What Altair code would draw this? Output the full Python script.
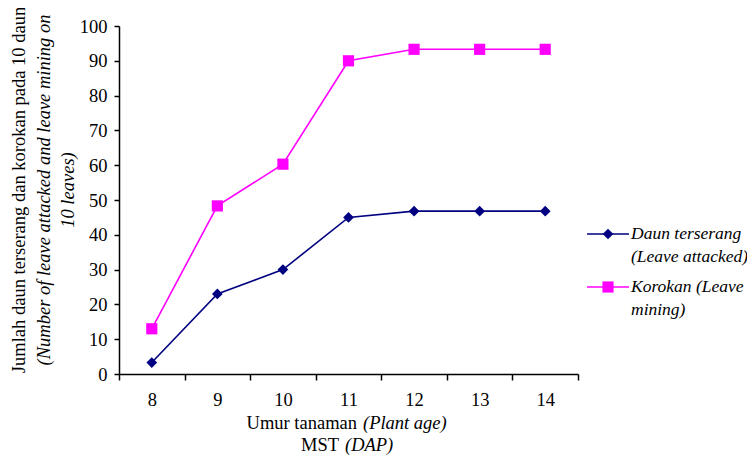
import altair as alt
import pandas as pd

umur = [8, 9, 10, 11, 12, 13, 14]
daun_terserang = [3.3, 23, 30, 45, 46.8, 46.8, 46.8]
korokan = [13, 48.3, 60.3, 90, 93.3, 93.3, 93.3]

series_names = ["Daun terserang", "Korokan"]
series_colors = ["#000080", "#FF00FF"]
series_shapes = ["diamond", "square"]
legend_label_lines = [["Daun terserang", "(Leave attacked)"], ["Korokan (Leave", "mining)"]]

y_title_lines = ["Jumlah daun terserang dan korokan pada 10 daun",
                 "(Number of leave attacked and leave mining on",
                 "10 leaves)"]
x_title_normal = ["Umur tanaman", "MST"]
x_title_italic = ["(Plant age)", "(DAP)"]

FONT = "Liberation Serif"
FS = 18.5
TFS = 18.5
W, H = 459, 348

df = pd.DataFrame({
    "umur": umur * 2,
    "nilai": daun_terserang + korokan,
    "seri": [series_names[0]] * len(umur) + [series_names[1]] * len(umur),
})

bounds = [7.5 + i for i in range(8)]
mid_ticks = sorted(bounds + umur)

x_enc = alt.X("umur:Q",
              scale=alt.Scale(domain=[7.5, 14.5], nice=False, zero=False),
              axis=alt.Axis(values=mid_ticks, title=None, grid=False,
                            labelOverlap=False, labelFlush=False,
                            labelExpr="datum.value % 1 === 0 ? '' + datum.value : ''",
                            tickOpacity={"condition": {"test": "datum.value % 1 === 0", "value": 0}, "value": 1},
                            tickSize=6, labelPadding=10, labelFontSize=TFS, labelFont=FONT))
y_enc = alt.Y("nilai:Q",
              scale=alt.Scale(domain=[0, 100], nice=False),
              axis=alt.Axis(values=list(range(0, 101, 10)), title=None, grid=False, format="d",
                            labelOverlap=False, labelFlush=False,
                            tickSize=5, labelPadding=7, labelFontSize=TFS, labelFont=FONT))

layers = []
for i, name in enumerate(series_names):
    sub = df[df["seri"] == name]
    base = alt.Chart(sub)
    layers.append(base.mark_line(color=series_colors[i], strokeWidth=1.6).encode(x=x_enc, y=y_enc))
    layers.append(base.mark_point(shape=series_shapes[i], filled=True, opacity=1,
                                  color=series_colors[i],
                                  size=115 if series_shapes[i] == "diamond" else 125).encode(x=x_enc, y=y_enc))

one = pd.DataFrame({"a": [0]})

# y-axis title (three rotated lines)
y_x = [-100, -75, -51]
for i, line in enumerate(y_title_lines):
    layers.append(alt.Chart(one).mark_text(text=line, angle=270, font=FONT, fontSize=FS,
                                           fontStyle="normal" if i == 0 else "italic",
                                           align="center", baseline="middle", color="black")
                  .encode(x=alt.value(y_x[i]), y=alt.value(164)))

# x-axis title (two lines, mixed style)
x_ys = [397, 419]
x_right = [238, 220]
x_left = [244, 226]
for i in range(2):
    layers.append(alt.Chart(one).mark_text(text=x_title_normal[i], font=FONT, fontSize=FS,
                                           align="right", baseline="middle", color="black")
                  .encode(x=alt.value(x_right[i]), y=alt.value(x_ys[i])))
    layers.append(alt.Chart(one).mark_text(text=x_title_italic[i], font=FONT, fontSize=FS,
                                           fontStyle="italic", align="left", baseline="middle", color="black")
                  .encode(x=alt.value(x_left[i]), y=alt.value(x_ys[i])))

# custom legend
leg_y = [208, 261]
for i in range(2):
    layers.append(alt.Chart(one).mark_rule(color=series_colors[i], strokeWidth=1.6)
                  .encode(x=alt.value(468), x2=alt.value(510), y=alt.value(leg_y[i])))
    layers.append(alt.Chart(one).mark_point(shape=series_shapes[i], filled=True, opacity=1,
                                            color=series_colors[i],
                                            size=115 if series_shapes[i] == "diamond" else 125)
                  .encode(x=alt.value(489), y=alt.value(leg_y[i])))
    for j, txt in enumerate(legend_label_lines[i]):
        layers.append(alt.Chart(one).mark_text(text=txt, font=FONT, fontSize=17.5, fontStyle="italic",
                                               align="left", baseline="middle", color="black")
                      .encode(x=alt.value(512), y=alt.value(leg_y[i] + 23 * j)))

chart = alt.layer(*layers).properties(
    width=W, height=H,
    autosize=alt.AutoSizeParams(type="none"),
    padding={"left": 111, "top": 18, "right": 169, "bottom": 86},
).configure_view(stroke=None).configure_axis(
    domainColor="black", domainWidth=1.5, tickColor="black", tickWidth=1.5,
    labelFont=FONT, labelColor="black",
).configure_text(font=FONT)

chart.save("out.html", embed_options={"renderer": "svg", "actions": False})
